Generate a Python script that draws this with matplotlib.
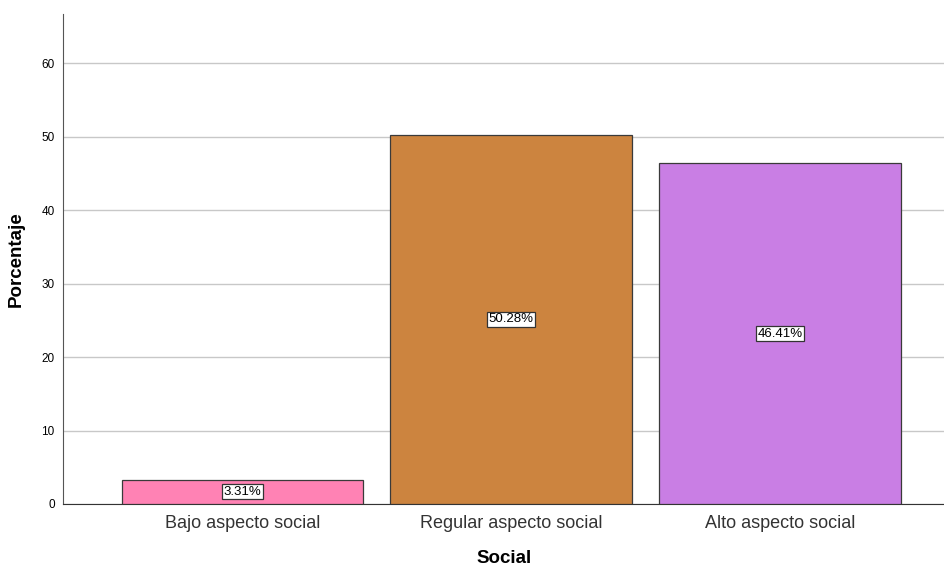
import matplotlib.pyplot as plt

categories = ["Bajo aspecto social", "Regular aspecto social", "Alto aspecto social"]
percentages = [3.31, 50.28, 46.41]
bar_colors = ["#FF82B4", "#CC843F", "#C97EE4"]
y_ticks = [0, 10, 20, 30, 40, 50, 60]

plt.rcParams["font.family"] = ["Liberation Sans", "DejaVu Sans"]

fig = plt.figure(figsize=(9.45, 5.68), dpi=100)
ax = fig.add_axes([0.0667, 0.1127, 0.9333, 0.8627])

positions = list(range(len(categories)))
ax.bar(positions, percentages, width=0.9, color=bar_colors,
       edgecolor="#3a3a3a", linewidth=0.9, zorder=3)

for x, val in zip(positions, percentages):
    ax.text(x, val / 2, f"{val:.2f}%", ha="center", va="center", fontsize=9.5,
            zorder=4,
            bbox=dict(boxstyle="square,pad=0.12", facecolor="white",
                      edgecolor="#333333", linewidth=0.9))

ax.set_xlim(-0.668, 2.615)
ax.set_ylim(0, 66.7)
ax.set_yticks(y_ticks)
ax.set_xticks(positions)
ax.set_xticklabels(categories, fontsize=13, color="#333333")
ax.tick_params(axis="y", labelsize=8.5, length=0, pad=6)
ax.tick_params(axis="x", length=0, pad=8)

ax.yaxis.grid(True, color="#c8c8c8", linewidth=1.0, zorder=0)
ax.set_axisbelow(True)

for side in ("top", "right"):
    ax.spines[side].set_visible(False)
ax.spines["left"].set_color("#555555")
ax.spines["bottom"].set_color("#333333")

ax.set_xlabel("Social", fontsize=13.5, fontweight="bold", labelpad=13)
ax.set_ylabel("Porcentaje", fontsize=13.5, fontweight="bold", labelpad=12)

fig.savefig("out.png", dpi=100)
